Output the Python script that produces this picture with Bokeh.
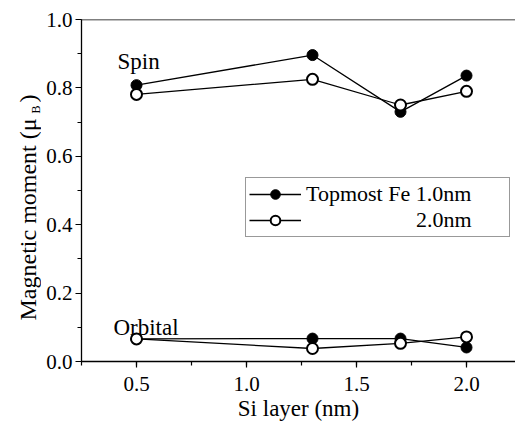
import numpy as np
from bokeh.plotting import figure
from bokeh.layouts import row
from bokeh.models import (Range1d, SingleIntervalTicker, PrintfTickFormatter, Span,
                          Legend, LegendItem, Label)
from bokeh.embed import file_html
from bokeh.resources import INLINE

# ---- data ----
si_layer = [0.5, 1.3, 1.7, 2.0]
spin_1nm = [0.808, 0.896, 0.730, 0.836]
spin_2nm = [0.781, 0.825, 0.750, 0.790]
orb_1nm = [0.066, 0.067, 0.067, 0.041]
orb_2nm = [0.066, 0.038, 0.053, 0.072]
legend_labels = ["Topmost Fe 1.0nm", "\u00a0" * 20 + "2.0nm"]
x_title = "Si layer (nm)"
y_title_main = "Magnetic moment (\u03bc"
y_title_sub = "B"
y_title_end = ")"

FONT = "Liberation Serif"
H = 428
TW = 41            # width of the strip that holds the y title
FR_TOP, FR_BOT = 19, 361   # frame top / bottom in page pixels

# ---- strip with the y-axis title (its frame is aligned with the main frame) ----
t = figure(width=TW, height=H, output_backend="svg", toolbar_location=None,
           x_range=Range1d(0, TW), y_range=Range1d(H - FR_BOT, H - FR_TOP),
           min_border_left=0, min_border_right=0, min_border_top=FR_TOP,
           min_border_bottom=H - FR_BOT, x_axis_type=None, y_axis_type=None)
t.outline_line_color = None
t.grid.visible = False
t.add_layout(Label(x=27, y=H - 320, text=y_title_main, angle=np.pi / 2, text_font=FONT,
                   text_font_size="24px", text_baseline="alphabetic", text_align="left",
                   text_color="black"))
t.add_layout(Label(x=35, y=H - 113, text=y_title_sub, angle=np.pi / 2, text_font=FONT,
                   text_font_size="12px", text_baseline="alphabetic", text_align="left",
                   text_color="black"))
t.add_layout(Label(x=27, y=H - 102, text=y_title_end, angle=np.pi / 2, text_font=FONT,
                   text_font_size="24px", text_baseline="alphabetic", text_align="left",
                   text_color="black"))

# ---- main plot ----
p = figure(width=515 - TW, height=H, output_backend="svg", toolbar_location=None,
           x_range=Range1d(0.25, 2.2227), y_range=Range1d(0.0, 1.0),
           min_border_left=81 - TW, min_border_right=0, min_border_top=FR_TOP,
           min_border_bottom=H - FR_BOT,
           background_fill_color="white", border_fill_color="white")
p.outline_line_color = None
p.grid.visible = False

xa = p.xaxis[0]
xa.ticker = SingleIntervalTicker(interval=0.5, num_minor_ticks=2)
xa.formatter = PrintfTickFormatter(format="%.1f")
xa.axis_label = x_title
ya = p.yaxis[0]
ya.ticker = SingleIntervalTicker(interval=0.2, num_minor_ticks=2)
ya.formatter = PrintfTickFormatter(format="%.1f")

for ax in (xa, ya):
    ax.axis_line_color = "black"
    ax.axis_line_width = 1.3
    ax.major_tick_line_color = "black"
    ax.minor_tick_line_color = "black"
    ax.major_tick_line_width = 1.2
    ax.minor_tick_line_width = 1.2
    ax.major_tick_in = 0
    ax.major_tick_out = 6
    ax.minor_tick_in = 0
    ax.minor_tick_out = 4
    ax.major_label_text_font = FONT
    ax.major_label_text_font_size = "21px"
    ax.major_label_text_color = "black"
    ax.axis_label_text_font = FONT
    ax.axis_label_text_font_size = "23px"
    ax.axis_label_text_font_style = "normal"
    ax.axis_label_text_color = "black"
xa.major_label_standoff = 9
xa.axis_label_standoff = 2
ya.major_label_standoff = 3

# top frame line
p.add_layout(Span(location=1.0, dimension="width", line_color="black", line_width=1.3))

# series
l1 = p.line(si_layer, spin_1nm, line_color="black", line_width=1.3)
l2 = p.line(si_layer, spin_2nm, line_color="black", line_width=1.3)
l3 = p.line(si_layer, orb_1nm, line_color="black", line_width=1.3)
l4 = p.line(si_layer, orb_2nm, line_color="black", line_width=1.3)
s1 = p.scatter(si_layer, spin_1nm, size=11, marker="circle", fill_color="black", line_color="black")
s3 = p.scatter(si_layer, orb_1nm, size=11, marker="circle", fill_color="black", line_color="black")
s2 = p.scatter(si_layer, spin_2nm, size=11, marker="circle", fill_color="white", line_color="black", line_width=2)
s4 = p.scatter(si_layer, orb_2nm, size=11, marker="circle", fill_color="white", line_color="black", line_width=2)

legend = Legend(items=[LegendItem(label=legend_labels[0], renderers=[l1, s1]),
                       LegendItem(label=legend_labels[1], renderers=[l2, s2])],
                location=(164, 124), orientation="vertical",
                glyph_width=52, glyph_height=24, label_height=24, label_width=200,
                label_standoff=5, spacing=0, padding=3, margin=0,
                label_text_font=FONT, label_text_font_size="22px", label_text_color="black",
                border_line_color="#333333", border_line_width=1.2,
                background_fill_color="white", background_fill_alpha=1.0)
p.add_layout(legend, "center")

p.add_layout(Label(x=0.4136, y=0.876, text="Spin", text_font=FONT, text_font_size="23px",
                   text_baseline="alphabetic", text_align="left", text_color="black"))
p.add_layout(Label(x=0.395, y=0.0996, text="Orbital", text_font=FONT, text_font_size="23px",
                   text_baseline="alphabetic", text_align="left", text_color="black"))

layout = row(t, p)
open("out.html", "w").write(file_html(layout, INLINE))
